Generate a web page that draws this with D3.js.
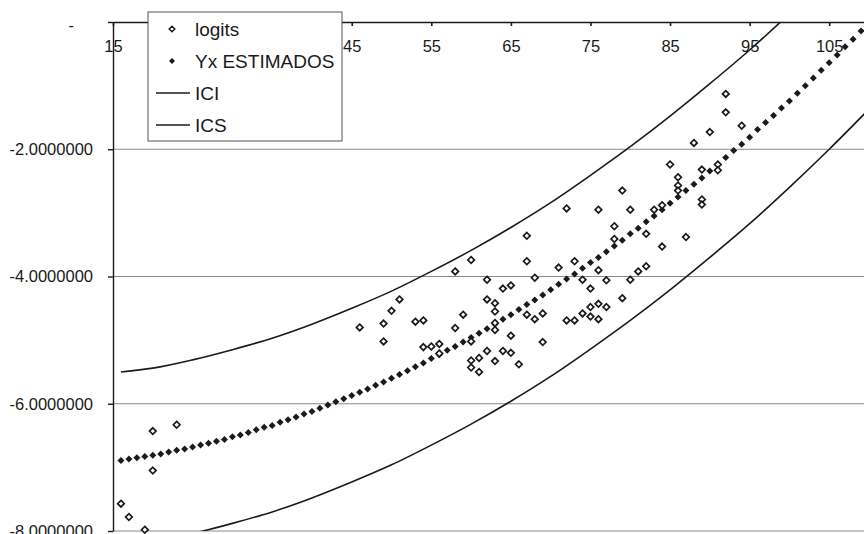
<!DOCTYPE html>
<html>
<head>
<meta charset="utf-8">
<script src="https://cdn.jsdelivr.net/npm/d3@7"></script>
<style>
  body { margin: 0; background: #fff; }
  svg { display: block; }
  text { font-family: Arial, "Liberation Sans", sans-serif; fill: #1a1a1a; }
</style>
</head>
<body>
<div id="chart"></div>
<script>
// observed logits (age, value)
const logitAges = [16, 17, 19, 20, 20, 23, 46, 49, 49, 50, 51, 53, 54, 54, 55, 56, 56, 58, 58, 59,
    60, 60, 60, 60, 61, 61, 62, 62, 62, 63, 63, 63, 63, 63, 64, 64, 65, 65, 65, 66,
    67, 67, 67, 68, 68, 69, 69, 72, 71, 72, 73, 73, 74, 74, 75, 75, 75, 76, 76, 76,
    76, 77, 77, 78, 78, 79, 79, 80, 80, 81, 82, 82, 83, 84, 84, 86, 86, 86, 85, 87,
    88, 89, 89, 89, 90, 91, 91, 92, 92, 94];
const logits = [-7.57, -7.78, -7.98, -6.43, -7.05, -6.33, -4.80, -4.74, -5.02, -4.54, -4.36, -4.71, -4.69, -5.11, -5.10, -5.06, -5.21, -3.92, -4.81, -4.60,
    -3.74, -5.02, -5.32, -5.43, -5.28, -5.50, -4.05, -4.36, -5.17, -4.42, -4.55, -4.73, -4.84, -5.33, -4.19, -5.17, -4.14, -4.93, -5.20, -5.38,
    -3.36, -3.76, -4.60, -4.02, -4.67, -4.58, -5.03, -2.93, -3.86, -4.69, -4.69, -3.76, -4.05, -4.58, -4.19, -4.48, -4.63, -2.95, -3.90, -4.43,
    -4.67, -4.06, -4.48, -3.21, -3.41, -2.65, -4.34, -2.95, -4.05, -3.92, -3.33, -3.84, -2.95, -2.88, -3.53, -2.44, -2.57, -2.65, -2.24, -3.38,
    -1.90, -2.32, -2.79, -2.87, -1.73, -2.24, -2.33, -1.13, -1.42, -1.63];

// estimated values, one per age
const estAges = [16, 17, 18, 19, 20, 21, 22, 23, 24, 25, 26, 27, 28, 29, 30, 31, 32, 33, 34, 35,
    36, 37, 38, 39, 40, 41, 42, 43, 44, 45, 46, 47, 48, 49, 50, 51, 52, 53, 54, 55,
    56, 57, 58, 59, 60, 61, 62, 63, 64, 65, 66, 67, 68, 69, 70, 71, 72, 73, 74, 75,
    76, 77, 78, 79, 80, 81, 82, 83, 84, 85, 86, 87, 88, 89, 90, 91, 92, 93, 94, 95,
    96, 97, 98, 99, 100, 101, 102, 103, 104, 105, 106, 107, 108, 109, 110];
const estimados = [-6.89, -6.87, -6.85, -6.83, -6.81, -6.79, -6.76, -6.73, -6.71, -6.68,
    -6.65, -6.62, -6.59, -6.56, -6.52, -6.49, -6.45, -6.41, -6.37, -6.34,
    -6.29, -6.25, -6.21, -6.16, -6.12, -6.07, -6.02, -5.97, -5.92, -5.87,
    -5.82, -5.77, -5.71, -5.66, -5.60, -5.54, -5.48, -5.42, -5.36, -5.29,
    -5.23, -5.16, -5.10, -5.03, -4.96, -4.89, -4.82, -4.75, -4.67, -4.60,
    -4.52, -4.44, -4.37, -4.29, -4.21, -4.12, -4.04, -3.96, -3.87, -3.78,
    -3.70, -3.61, -3.52, -3.43, -3.33, -3.24, -3.14, -3.05, -2.95, -2.85,
    -2.75, -2.65, -2.55, -2.45, -2.34, -2.24, -2.13, -2.02, -1.92, -1.81,
    -1.69, -1.58, -1.47, -1.35, -1.24, -1.12, -1.00, -0.88, -0.76, -0.64,
    -0.52, -0.39, -0.27, -0.14, -0.01];

// confidence band
const bandAges = [16, 20, 25, 30, 35, 40, 45, 50, 55, 60, 65, 70, 75, 80, 85, 90, 95, 100, 105, 110];
const ici = [-8.25, -8.17, -8.04, -7.88, -7.70, -7.48, -7.23, -6.96, -6.65, -6.32,
    -5.96, -5.57, -5.14, -4.69, -4.21, -3.70, -3.17, -2.60, -2.00, -1.37];
const ics = [-5.50, -5.44, -5.31, -5.15, -4.97, -4.75, -4.50, -4.23, -3.92, -3.59,
    -3.23, -2.84, -2.41, -1.96, -1.48, -0.97, -0.44, 0.13, 0.73, 1.36];

const xTicks = [15, 25, 35, 45, 55, 65, 75, 85, 95, 105];
const hiddenXLabels = [25, 35]; // sit under the legend box
const yTicks = [-8, -6, -4, -2, 0];
const legendLabels = ["logits", "Yx ESTIMADOS", "ICI", "ICS"];

const width = 864, height = 534;
const plotLeft = 113, plotTop = 22, plotBottom = 531, plotRight = 869;

const svg = d3.select("#chart").append("svg")
    .attr("width", width)
    .attr("height", height);

const x = d3.scaleLinear().domain([15, 110]).range([plotLeft, plotRight]);
const y = d3.scaleLinear().domain([-8, 0]).range([plotBottom, plotTop]);

svg.append("clipPath").attr("id", "plot")
    .append("rect")
    .attr("x", plotLeft).attr("y", plotTop)
    .attr("width", plotRight - plotLeft).attr("height", plotBottom - plotTop);

// gridlines
svg.append("g")
    .selectAll("line")
    .data(yTicks.filter(d => d < 0))
    .enter()
    .append("line")
    .attr("x1", plotLeft).attr("x2", plotRight)
    .attr("y1", d => y(d)).attr("y2", d => y(d))
    .attr("stroke", "#8a8a8a")
    .attr("stroke-width", 1);

// y axis
const yAxis = svg.append("g")
    .attr("transform", `translate(${plotLeft},0)`)
    .call(d3.axisLeft(y)
        .tickValues(yTicks)
        .tickSize(5)
        .tickPadding(15)
        .tickSizeOuter(0)
        .tickFormat(d => d === 0 ? "-" : d.toFixed(7)));
yAxis.selectAll("text").style("font-size", "16.5px");
yAxis.selectAll(".tick").filter(d => d === 0).select("text").attr("x", -39).attr("dy", "0.5em");
yAxis.selectAll("line, path").attr("stroke", "#1a1a1a").attr("stroke-width", 1.4);

// x axis along the top
const xAxis = svg.append("g")
    .attr("transform", `translate(0,${y(0)})`)
    .call(d3.axisBottom(x)
        .tickValues(xTicks)
        .tickSize(4)
        .tickPadding(14)
        .tickSizeOuter(0)
        .tickFormat(d => hiddenXLabels.includes(d) ? "" : d));
xAxis.selectAll("text").style("font-size", "16.5px");
xAxis.selectAll("line, path").attr("stroke", "#1a1a1a").attr("stroke-width", 1.6);

// confidence curves
const line = d3.line()
    .x(d => x(d[0]))
    .y(d => y(d[1]))
    .curve(d3.curveMonotoneX);

[ici, ics].forEach(vals => {
    svg.append("path")
        .datum(bandAges.map((a, i) => [a, vals[i]]))
        .attr("clip-path", "url(#plot)")
        .attr("fill", "none")
        .attr("stroke", "#1a1a1a")
        .attr("stroke-width", 1.6)
        .attr("d", line);
});

const diamond = r => `M0,${-r}L${r},0L0,${r}L${-r},0Z`;

// estimated
svg.append("g")
    .selectAll("path")
    .data(estAges.map((a, i) => [a, estimados[i]]))
    .enter()
    .append("path")
    .attr("transform", d => `translate(${x(d[0])},${y(d[1])})`)
    .attr("d", diamond(3.5))
    .attr("fill", "#1a1a1a");

// logits
svg.append("g")
    .selectAll("path")
    .data(logitAges.map((a, i) => [a, logits[i]]))
    .enter()
    .append("path")
    .attr("transform", d => `translate(${x(d[0])},${y(d[1])})`)
    .attr("d", diamond(3.3))
    .attr("fill", "#fff")
    .attr("stroke", "#1a1a1a")
    .attr("stroke-width", 1.7);

// legend
const legend = svg.append("g").attr("transform", "translate(148,12)");
legend.append("rect")
    .attr("width", 194).attr("height", 129)
    .attr("fill", "#fff")
    .attr("stroke", "#555")
    .attr("stroke-width", 1);

legendLabels.forEach((label, i) => {
    const ly = 17 + i * 32;
    if (i === 0) {
        legend.append("path").attr("transform", `translate(24,${ly})`)
            .attr("d", diamond(2.8)).attr("fill", "#fff").attr("stroke", "#1a1a1a").attr("stroke-width", 1.5);
    } else if (i === 1) {
        legend.append("path").attr("transform", `translate(24,${ly})`)
            .attr("d", diamond(3)).attr("fill", "#1a1a1a");
    } else {
        legend.append("line")
            .attr("x1", 8).attr("x2", 42)
            .attr("y1", ly).attr("y2", ly)
            .attr("stroke", "#1a1a1a").attr("stroke-width", 1.5);
    }
    legend.append("text")
        .attr("x", 47).attr("y", ly)
        .attr("dy", "0.35em")
        .style("font-size", "19px")
        .text(label);
});
</script>
</body>
</html>
